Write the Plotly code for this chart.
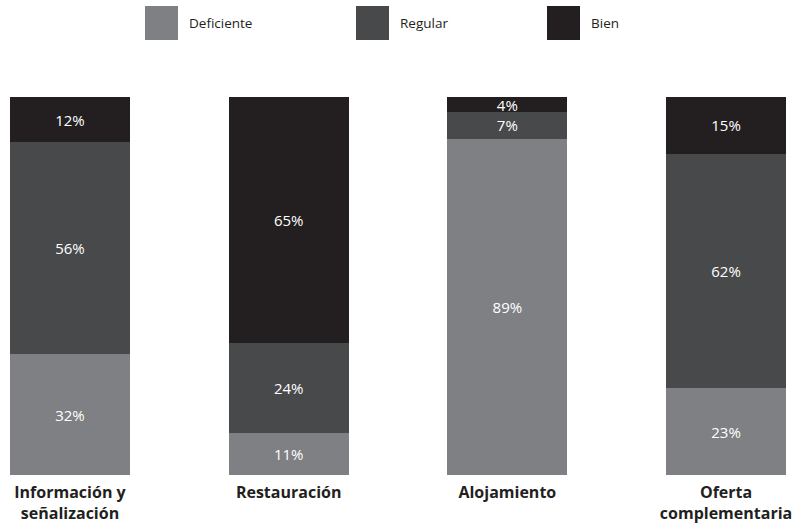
import plotly.graph_objects as go

categories = ["<b>Información y<br>señalización</b>", "<b>Restauración</b>", "<b>Alojamiento</b>", "<b>Oferta<br>complementaria</b>"]
series_names = ["Deficiente", "Regular", "Bien"]
deficiente = [32, 11, 89, 23]
regular = [56, 24, 7, 62]
bien = [12, 65, 4, 15]
colors = ["#7f8084", "#48494b", "#231f20"]

W, H = 796, 528
T, B = 97, 53
plot_h = H - T - B

fig = go.Figure()
for name, vals, col in zip(series_names, [deficiente, regular, bien], colors):
    fig.add_trace(go.Bar(
        name=name, x=list(range(len(categories))), y=vals,
        marker=dict(color=col, line=dict(width=0)),
        width=0.549,
        text=[f"{v}%" for v in vals], textposition="inside",
        insidetextanchor="middle", textangle=0,
        textfont=dict(color="white", size=15, family="Open Sans"),
        showlegend=False, hoverinfo="skip",
    ))

# legend drawn as shapes + annotations
legend_px = [145, 356, 547]
def py(p):
    return (H - B - p) / plot_h
for name, col, x0 in zip(series_names, colors, legend_px):
    fig.add_shape(type="rect", xref="paper", yref="paper",
                  x0=x0 / W, x1=(x0 + 33) / W, y0=py(40), y1=py(6),
                  fillcolor=col, line=dict(width=0))
    fig.add_annotation(xref="paper", yref="paper", x=(x0 + 42) / W, y=py(23),
                       text=name, showarrow=False, xanchor="left", yanchor="middle",
                       font=dict(size=13.5, color="#231f20", family="Open Sans"))

fig.update_layout(
    barmode="stack", width=W, height=H,
    margin=dict(l=0, r=0, t=T, b=B, pad=0),
    paper_bgcolor="white", plot_bgcolor="white",
    uniformtext=dict(minsize=15, mode="show"),
    xaxis=dict(range=[-0.32, 3.32], tickmode="array", tickvals=list(range(len(categories))),
               ticktext=categories, showgrid=False, zeroline=False, showline=False,
               ticks="", ticklabelstandoff=6,
               tickfont=dict(size=16, color="#231f20", family="Open Sans")),
    yaxis=dict(range=[0, 100], visible=False, showgrid=False, zeroline=False),
)
fig.write_html("out.html")
